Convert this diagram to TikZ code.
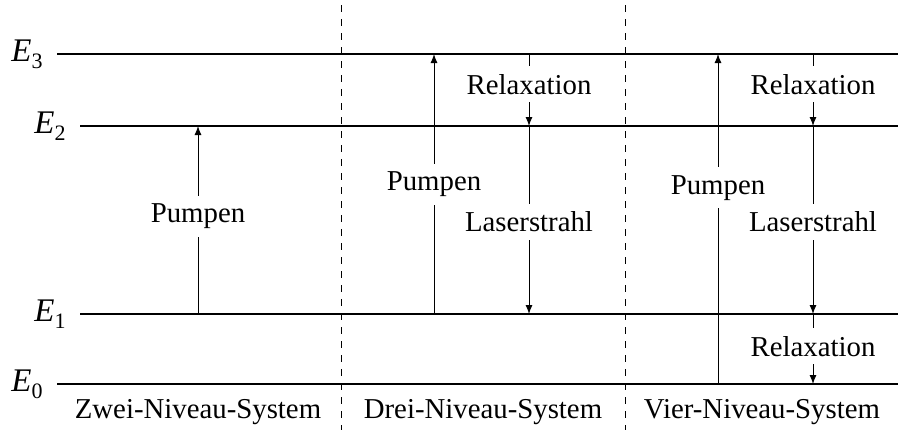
\documentclass[tikz,border=0pt]{standalone}
\usepackage{fontspec}
\setmainfont{Liberation Serif}
\usetikzlibrary{arrows.meta}
\newcommand{\levlabel}[1]{{\fontsize{16.5}{19}\selectfont\textit{E}}\raisebox{-3.5pt}{\fontsize{11}{13}\selectfont #1}}
\begin{document}
\begin{tikzpicture}[x=0.5pt,y=-0.5pt,
  level/.style={line width=1pt},
  trans/.style={line width=0.5pt,-{Latex[length=4.5pt,width=3.5pt]}},
  lbl/.style={fill=white,inner sep=4pt,font=\fontsize{14.4}{17}\selectfont},
  sep/.style={line width=0.4pt,dash pattern=on 3.5pt off 3.5pt,dash phase=-2.5pt},
  txt/.style={font=\fontsize{14.4}{17}\selectfont},
  elab/.style={anchor=east,inner sep=0pt,xshift=-7pt}]
\useasboundingbox (0,0) rectangle (898,430);

% energy levels
\coordinate (e3a) at (57,54);  \coordinate (e3b) at (898,54);
\coordinate (e2a) at (80,126); \coordinate (e2b) at (898,126);
\coordinate (e1a) at (80,314); \coordinate (e1b) at (898,314);
\coordinate (e0a) at (57,384); \coordinate (e0b) at (898,384);
\draw[level] (e3a) -- (e3b);
\draw[level] (e2a) -- (e2b);
\draw[level] (e1a) -- (e1b);
\draw[level] (e0a) -- (e0b);
\node[elab] (E3) at (e3a) {\levlabel{3}};
\node[elab] (E2) at (e2a) {\levlabel{2}};
\node[elab] (E1) at (e1a) {\levlabel{1}};
\node[elab] (E0) at (e0a) {\levlabel{0}};

% separators between the three systems
\coordinate (s1t) at (341,0); \coordinate (s1b) at (341,430);
\coordinate (s2t) at (625,0); \coordinate (s2b) at (625,430);
\draw[sep] (s1t) -- (s1b);
\draw[sep] (s2t) -- (s2b);

% two-level system
\coordinate (z1) at (198,314); \coordinate (z2) at (198,126);
\draw[trans] (z1) -- node[lbl,pos=0.52] (zp) {Pumpen} (z2);

% three-level system
\coordinate (d1) at (434,314); \coordinate (d3) at (434,54);
\draw[trans] (d1) -- node[lbl,pos=0.5] (dp) {Pumpen} (d3);
\coordinate (dr3) at (529,54); \coordinate (dr2) at (529,126); \coordinate (dr1) at (529,314);
\draw[trans] (dr3) -- node[lbl,pos=0.42] (drel) {Relaxation} (dr2);
\draw[trans] (dr2) -- node[lbl,pos=0.51] (dlas) {Laserstrahl} (dr1);

% four-level system
\coordinate (v0) at (718,384); \coordinate (v3) at (718,54);
\draw[trans] (v0) -- node[lbl,pos=0.594] (vp) {Pumpen} (v3);
\coordinate (vr3) at (813,54); \coordinate (vr2) at (813,126);
\coordinate (vr1) at (813,314); \coordinate (vr0) at (813,384);
\draw[trans] (vr3) -- node[lbl,pos=0.42] (vrel) {Relaxation} (vr2);
\draw[trans] (vr2) -- node[lbl,pos=0.51] (vlas) {Laserstrahl} (vr1);
\draw[trans] (vr1) -- node[lbl,pos=0.46] (vrel2) {Relaxation} (vr0);

% captions
\node[txt] (cz) at (198,412) {Zwei-Niveau-System};
\node[txt] (cd) at (483,412) {Drei-Niveau-System};
\node[txt] (cv) at (762,412) {Vier-Niveau-System};
\end{tikzpicture}
\end{document}
